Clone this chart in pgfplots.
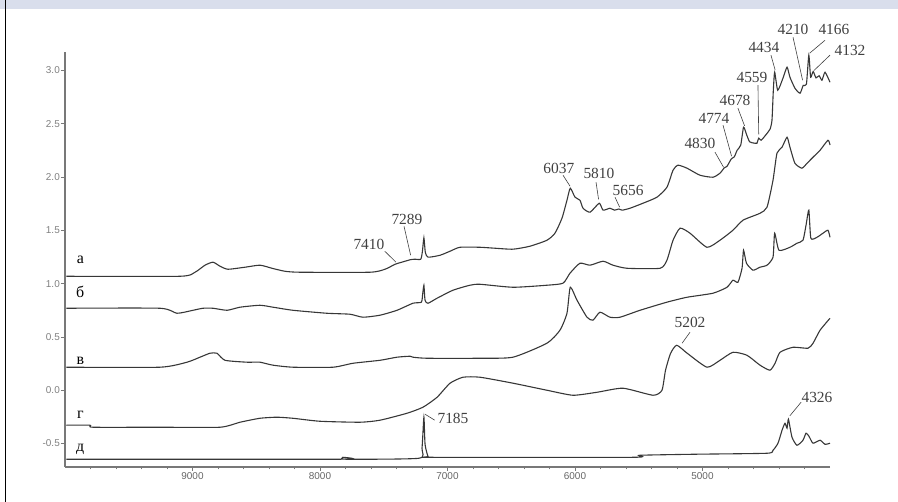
\documentclass[border=0pt]{standalone}
\usepackage{fontspec}
\setmainfont{Liberation Serif}
\setsansfont{Liberation Sans}
\usepackage{pgfplots}
\pgfplotsset{compat=1.18}
\definecolor{band}{RGB}{217,222,236}
\definecolor{trace}{RGB}{55,55,55}
\definecolor{axisgray}{RGB}{120,120,120}

\newcommand{\annfont}{\fontsize{15.5}{15.5}\selectfont}
\newcommand{\letfont}{\fontsize{16}{16}\selectfont}
\pgfplotsset{spec/.style={trace, line width=1.1bp, mark=none, smooth, tension=0.35}}

\begin{document}
\begin{tikzpicture}[x=1bp,y=1bp]
\useasboundingbox (0,0) rectangle (898,502);
\fill[band] (0,493) rectangle (898,502);
\draw[black, line width=1.5bp] (5.5,0) -- (5.5,502);
\begin{axis}[
  at={(65bp,35bp)}, anchor=south west,
  scale only axis, width=765bp, height=414.7bp,
  x dir=reverse, xmin=4000, xmax=10000, ymin=-0.72, ymax=3.17,
  axis x line=bottom, axis y line=left,
  axis line style={-, axisgray, line width=1.2bp},
  scaled x ticks=false, scaled y ticks=false,
  xtick={5000,6000,7000,8000,9000},
  xticklabels={5000,6000,7000,8000,9000},
  minor xtick={4200,4400,...,9800},
  ytick={-0.5,0,0.5,1,1.5,2,2.5,3},
  yticklabels={-0.5,0.0,0.5,1.0,1.5,2.0,2.5,3.0},
  tick align=outside,
  major tick length=4bp, minor tick length=2.5bp,
  tick style={axisgray, line width=0.8bp},
  xticklabel style={font=\sffamily\fontsize{10}{10}\selectfont, text=black!60, inner sep=1bp},
  yticklabel style={font=\sffamily\fontsize{10}{10}\selectfont, text=black!50, inner sep=1bp},
  clip=false,
]
% curve a
\addplot[spec] coordinates {(9990,1.069)(9098,1.069)(8980,1.107)(8902,1.173)(8839,1.201)(8784,1.163)(8722,1.135)(8588,1.154)(8471,1.173)(8376,1.144)(8275,1.116)(8157,1.107)(7608,1.107)(7490,1.135)(7410,1.182)(7333,1.210)(7289,1.225)(7255,1.229)(7210,1.229)(7197,1.30)(7185,1.43)(7174,1.295)(7153,1.248)(7059,1.266)(6980,1.304)(6902,1.341)(6745,1.341)(6627,1.332)(6486,1.323)(6353,1.351)(6220,1.407)(6157,1.473)(6102,1.614)(6063,1.782)(6037,1.895)(6000,1.811)(5961,1.782)(5937,1.707)(5882,1.670)(5810,1.754)(5780,1.689)(5726,1.707)(5690,1.689)(5656,1.70)(5630,1.689)(5569,1.707)(5467,1.754)(5357,1.811)(5279,1.904)(5231,2.064)(5192,2.111)(5122,2.083)(5020,2.017)(4918,1.998)(4863,2.036)(4830,2.085)(4808,2.10)(4774,2.17)(4750,2.19)(4729,2.25)(4700,2.30)(4678,2.467)(4655,2.40)(4630,2.33)(4590,2.317)(4573,2.317)(4559,2.364)(4540,2.345)(4500,2.40)(4470,2.45)(4455,2.533)(4445,2.80)(4434,2.983)(4410,2.814)(4369,2.927)(4337,3.030)(4314,2.936)(4275,2.833)(4235,2.786)(4210,2.86)(4185,2.87)(4166,3.143)(4152,2.936)(4132,2.99)(4110,2.93)(4085,2.95)(4063,2.908)(4039,2.983)(4000,2.889)};
% curve b
\addplot[spec] coordinates {(9990,0.769)(9255,0.769)(9122,0.722)(8996,0.750)(8918,0.769)(8839,0.769)(8729,0.750)(8627,0.779)(8471,0.797)(8369,0.779)(8212,0.750)(7945,0.722)(7765,0.713)(7663,0.685)(7529,0.704)(7396,0.750)(7271,0.816)(7205,0.826)(7195,0.90)(7185,0.985)(7176,0.844)(7153,0.816)(7082,0.863)(6957,0.938)(6824,0.985)(6745,0.994)(6486,0.966)(6220,0.985)(6094,1.004)(6039,1.098)(5961,1.191)(5882,1.173)(5780,1.210)(5702,1.173)(5592,1.144)(5333,1.144)(5279,1.220)(5231,1.407)(5176,1.520)(5098,1.473)(4965,1.341)(4863,1.407)(4761,1.501)(4682,1.595)(4549,1.660)(4494,1.717)(4447,1.970)(4416,2.223)(4376,2.280)(4337,2.373)(4314,2.280)(4275,2.129)(4220,2.083)(4180,2.129)(4133,2.186)(4078,2.251)(4016,2.345)(4000,2.30)};
% curve v
\addplot[spec] coordinates {(9990,0.216)(9255,0.216)(9043,0.263)(8941,0.310)(8863,0.347)(8808,0.347)(8745,0.281)(8573,0.263)(8471,0.263)(8369,0.235)(8212,0.216)(7898,0.216)(7741,0.253)(7529,0.281)(7396,0.310)(7294,0.319)(7271,0.310)(7161,0.300)(6745,0.300)(6486,0.310)(6220,0.441)(6118,0.563)(6063,0.722)(6037,0.966)(5984,0.844)(5906,0.685)(5859,0.657)(5804,0.732)(5726,0.685)(5647,0.685)(5490,0.750)(5279,0.826)(5122,0.872)(4918,0.910)(4808,0.966)(4761,1.032)(4722,1.013)(4690,1.144)(4678,1.313)(4655,1.191)(4604,1.126)(4549,1.154)(4494,1.173)(4447,1.248)(4434,1.473)(4400,1.313)(4314,1.341)(4259,1.379)(4212,1.407)(4188,1.548)(4166,1.689)(4150,1.426)(4102,1.435)(4055,1.473)(4016,1.501)(4000,1.435)};
% curve g
\addplot[spec] coordinates {(9990,-0.328)(9804,-0.328)(9780,-0.347)(9255,-0.347)(8784,-0.347)(8627,-0.300)(8471,-0.263)(8337,-0.253)(8212,-0.263)(8000,-0.291)(7686,-0.300)(7529,-0.281)(7318,-0.216)(7192,-0.159)(7082,-0.066)(6980,0.066)(6878,0.122)(6745,0.122)(6486,0.066)(6220,0)(6016,-0.047)(5827,-0.019)(5624,0.019)(5388,-0.047)(5318,0)(5290,0.188)(5250,0.347)(5202,0.422)(5120,0.347)(4965,0.216)(4863,0.281)(4761,0.356)(4651,0.328)(4549,0.235)(4471,0.188)(4431,0.253)(4392,0.356)(4290,0.403)(4173,0.394)(4133,0.441)(4078,0.563)(4000,0.675)};
% curve d
\addplot[spec] coordinates {(9990,-0.647)(7843,-0.647)(7820,-0.629)(7796,-0.647)(7224,-0.638)(7200,-0.544)(7185,-0.253)(7176,-0.507)(7153,-0.619)(7122,-0.629)(5545,-0.629)(5490,-0.610)(5043,-0.600)(4494,-0.591)(4447,-0.563)(4408,-0.497)(4376,-0.375)(4353,-0.310)(4337,-0.356)(4326,-0.272)(4298,-0.441)(4259,-0.516)(4212,-0.469)(4188,-0.403)(4165,-0.432)(4133,-0.497)(4078,-0.469)(4039,-0.507)(4000,-0.497)};

% curve letters
\node[font=\letfont] at (9880,1.22) {а};
\node[font=\letfont] at (9880,0.92) {б};
\node[font=\letfont] at (9880,0.28) {в};
\node[font=\letfont] at (9880,-0.235) {г};
\node[font=\letfont] at (9880,-0.553) {д};

% band assignments with leader lines
\begin{scope}[every node/.style={font=\annfont, inner sep=0pt}, line width=0.6bp, black!75]
\node at (7616,1.370) {7410};
\draw (7492,1.304) -- (7404,1.201);
\node at (7318,1.604) {7289};
\draw (7341,1.538) -- (7289,1.266);
\node at (6126,2.083) {6037};
\draw (6094,2.017) -- (6039,1.914);
\node at (5812,2.036) {5810};
\draw (5835,1.951) -- (5815,1.79);
\node at (5584,1.876) {5656};
\draw (5686,1.811) -- (5650,1.717);
\node at (5020,2.317) {4830};
\draw (4902,2.233) -- (4835,2.092);
\node at (4910,2.552) {4774};
\draw (4839,2.486) -- (4772,2.195);
\node at (4745,2.720) {4678};
\draw (4722,2.645) -- (4670,2.48);
\node at (4612,2.936) {4559};
\draw (4565,2.861) -- (4559,2.40);
\node at (4518,3.218) {4434};
\draw (4463,3.143) -- (4430,3.002);
\node at (4290,3.387) {4210};
\draw (4290,3.311) -- (4215,2.908);
\node at (3969,3.387) {4166};
\draw (4039,3.283) -- (4160,3.161);
\node at (3843,3.189) {4132};
\draw (4000,3.143) -- (4125,3.00);
\node at (5098,0.638) {5202};
\draw (5098,0.544) -- (5160,0.441);
\node at (6957,-0.263) {7185};
\draw (7176,-0.225) -- (7100,-0.281);
\node at (4102,-0.066) {4326};
\draw (4227,-0.113) -- (4315,-0.24);
\end{scope}
\end{axis}
\end{tikzpicture}
\end{document}
